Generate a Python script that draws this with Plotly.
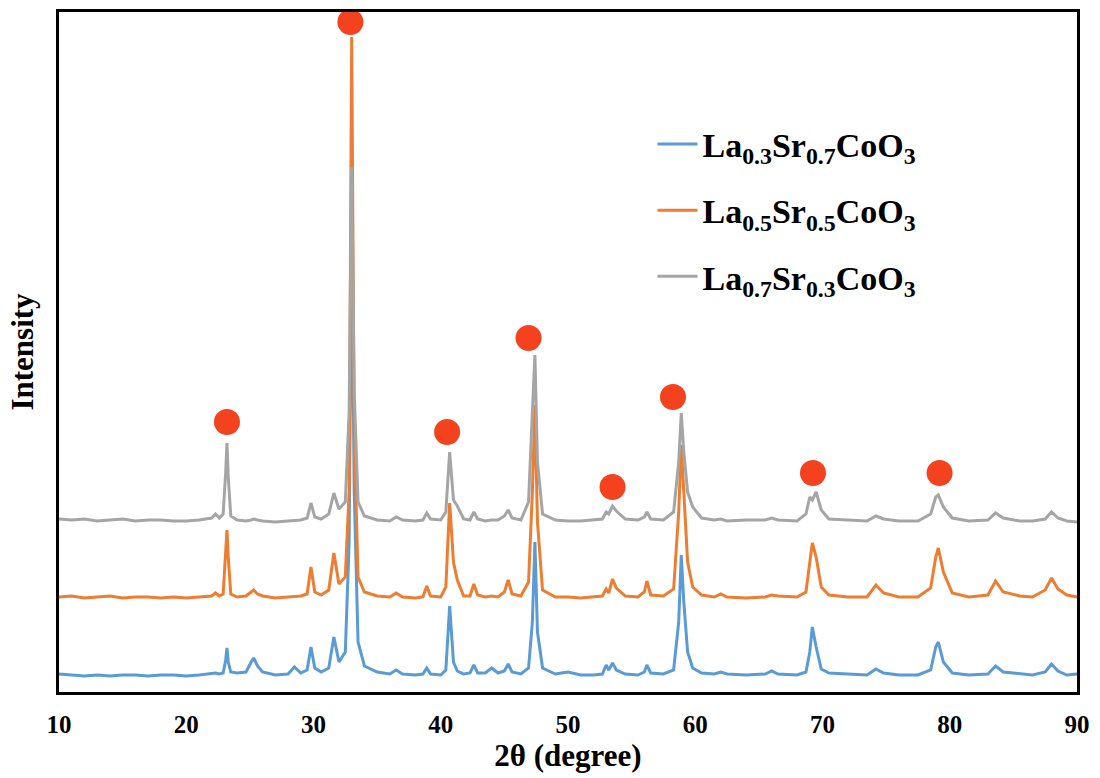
import plotly.graph_objects as go

# 2θ positions (degrees), shared by the three patterns
two_theta = [
    10, 11, 12, 13, 14, 15, 16, 17, 18, 19,
    20, 21, 22, 22.3, 22.6, 22.9, 23.1, 23.2, 23.3, 23.5,
    24, 24.7, 25.1, 25.3, 25.6, 26, 27, 28, 28.5, 29,
    29.5, 29.8, 30.1, 30.6, 31.2, 31.6, 32.0, 32.5, 32.8, 33.0,
    33.2, 33.5, 34, 35, 36, 36.5, 37, 38, 38.6, 38.9,
    39.2, 40, 40.4, 40.7, 41.0, 41.3, 41.8, 42.3, 42.6, 42.9,
    43.5, 44, 44.5, 45.0, 45.3, 45.6, 46.3, 46.9, 47.2, 47.4,
    47.6, 48.0, 49, 50, 51, 52, 52.7, 53.0, 53.2, 53.5,
    53.8, 54.5, 55.5, 56.0, 56.2, 56.5, 57.5, 58.3, 58.7, 58.9,
    59.1, 59.4, 59.8, 60.5, 61.5, 62, 62.5, 64, 65.5, 66,
    66.5, 68, 68.7, 69.0, 69.2, 69.5, 69.9, 70.5, 72, 73.5,
    74.2, 74.8, 76, 77.5, 78.5, 78.9, 79.1, 79.5, 80.2, 81.5,
    83, 83.6, 84.2, 85.5, 86.5, 87.5, 88.0, 88.5, 89.2, 90,
]

# Intensity (a.u., offset as in the figure)
int_la03 = [
    18, 17, 16, 17, 16, 17, 17, 16, 17, 17,
    16, 17, 18, 19, 18, 19, 32, 44, 30, 20,
    19, 20, 30, 34, 26, 20, 17, 18, 25, 19,
    22, 45, 24, 20, 24, 55, 30, 40, 150, 460,
    200, 50, 26, 20, 18, 22, 18, 17, 18, 24,
    18, 17, 22, 86, 30, 21, 18, 19, 27, 19,
    19, 24, 19, 21, 28, 20, 18, 24, 70, 150,
    60, 24, 18, 20, 17, 17, 18, 27, 22, 29,
    22, 18, 17, 20, 27, 19, 18, 22, 70, 137,
    90, 40, 24, 19, 18, 20, 18, 17, 18, 21,
    18, 17, 20, 40, 65, 45, 23, 19, 18, 17,
    23, 19, 17, 17, 22, 45, 50, 30, 19, 17,
    18, 26, 20, 18, 17, 20, 28, 21, 17, 18,
]
int_la05 = [
    95, 96, 94, 95, 96, 94, 95, 95, 94, 95,
    94, 95, 96, 99, 96, 98, 140, 162, 135, 98,
    95, 96, 100, 102, 98, 96, 94, 95, 96, 96,
    98, 125, 100, 97, 102, 139, 108, 115, 200, 655,
    260, 115, 100, 96, 95, 99, 95, 94, 95, 106,
    96, 95, 105, 189, 130, 112, 96, 96, 108, 97,
    95, 96, 95, 100, 112, 98, 96, 110, 200, 287,
    170, 102, 95, 95, 94, 95, 96, 103, 99, 113,
    104, 96, 95, 100, 111, 97, 96, 103, 180, 247,
    200, 130, 105, 97, 95, 98, 95, 94, 95, 97,
    96, 95, 100, 130, 149, 135, 105, 97, 95, 95,
    107, 99, 95, 95, 104, 135, 144, 120, 99, 95,
    97, 111, 100, 96, 95, 102, 114, 103, 97, 95,
]
int_la07 = [
    173, 172, 173, 171, 172, 173, 171, 172, 172, 171,
    171, 172, 174, 178, 174, 178, 220, 249, 215, 176,
    172, 171, 172, 173, 172, 171, 170, 171, 172, 172,
    174, 189, 175, 173, 178, 199, 183, 190, 280, 525,
    300, 190, 176, 172, 171, 175, 172, 171, 172, 179,
    173, 172, 180, 240, 192, 186, 173, 172, 180, 173,
    171, 172, 172, 176, 182, 174, 172, 190, 280, 337,
    230, 178, 172, 171, 171, 172, 173, 180, 178, 186,
    181, 173, 172, 175, 180, 173, 172, 180, 230, 279,
    240, 200, 185, 174, 172, 173, 171, 172, 172, 174,
    172, 171, 178, 195, 192, 200, 182, 173, 172, 171,
    176, 173, 171, 171, 178, 195, 197, 185, 174, 171,
    172, 179, 174, 171, 171, 173, 180, 174, 171, 170,
]

# Perovskite peak markers
marker_theta = [23.2, 32.9, 40.5, 46.9, 53.5, 58.25, 69.25, 79.2]
marker_int = [270, 670, 260, 354, 205, 295, 219, 219]

tick_values = [10, 20, 30, 40, 50, 60, 70, 80, 90]
tick_labels = [f"<b>{v}</b>" for v in tick_values]

series_names = [
    "<b>La<sub>0.3</sub>Sr<sub>0.7</sub>CoO<sub>3</sub></b>",
    "<b>La<sub>0.5</sub>Sr<sub>0.5</sub>CoO<sub>3</sub></b>",
    "<b>La<sub>0.7</sub>Sr<sub>0.3</sub>CoO<sub>3</sub></b>",
]
series_colors = ["#5B9BD5", "#ED7D31", "#A5A5A5"]
series_values = [int_la03, int_la05, int_la07]

FONT = "Liberation Serif, Times New Roman, serif"

fig = go.Figure()
for i, (name, color, vals) in enumerate(zip(series_names, series_colors, series_values)):
    fig.add_trace(go.Scatter(
        x=two_theta, y=vals, mode="lines", name=name,
        line=dict(color=color, width=3),
        legendgroup=f"g{i}",
    ))

fig.add_trace(go.Scatter(
    x=marker_theta, y=marker_int, mode="markers", showlegend=False,
    marker=dict(color="#F4421F", size=26, line=dict(width=0)),
))

fig.update_layout(
    width=1100, height=778,
    margin=dict(l=59, r=23, t=12, b=86, autoexpand=False),
    paper_bgcolor="white", plot_bgcolor="white",
    font=dict(family=FONT, color="black", size=22),
    legend=dict(
        x=0.583, y=0.848, xanchor="left", yanchor="top",
        font=dict(family=FONT, size=34, color="black"),
        bgcolor="rgba(0,0,0,0)", traceorder="grouped", tracegroupgap=19,
        itemwidth=40,
    ),
    showlegend=True,
)

fig.update_xaxes(
    range=[10, 90], tickvals=tick_values, ticktext=tick_labels,
    showline=True, linecolor="black", linewidth=3, mirror=True,
    showgrid=False, zeroline=False, ticks="", ticklabelstandoff=8,
    tickfont=dict(family=FONT, size=25, color="black"),
    automargin=False,
    title=dict(text="<b>2θ (degree)</b>", font=dict(family=FONT, size=31, color="black"), standoff=8),
)
fig.update_yaxes(
    range=[0, 680], showticklabels=False,
    showline=True, linecolor="black", linewidth=3, mirror=True,
    showgrid=False, zeroline=False, ticks="",
    automargin=False,
    title=dict(text="<b>Intensity</b>", font=dict(family=FONT, size=31, color="black"), standoff=14),
)

fig.write_html("out.html")
